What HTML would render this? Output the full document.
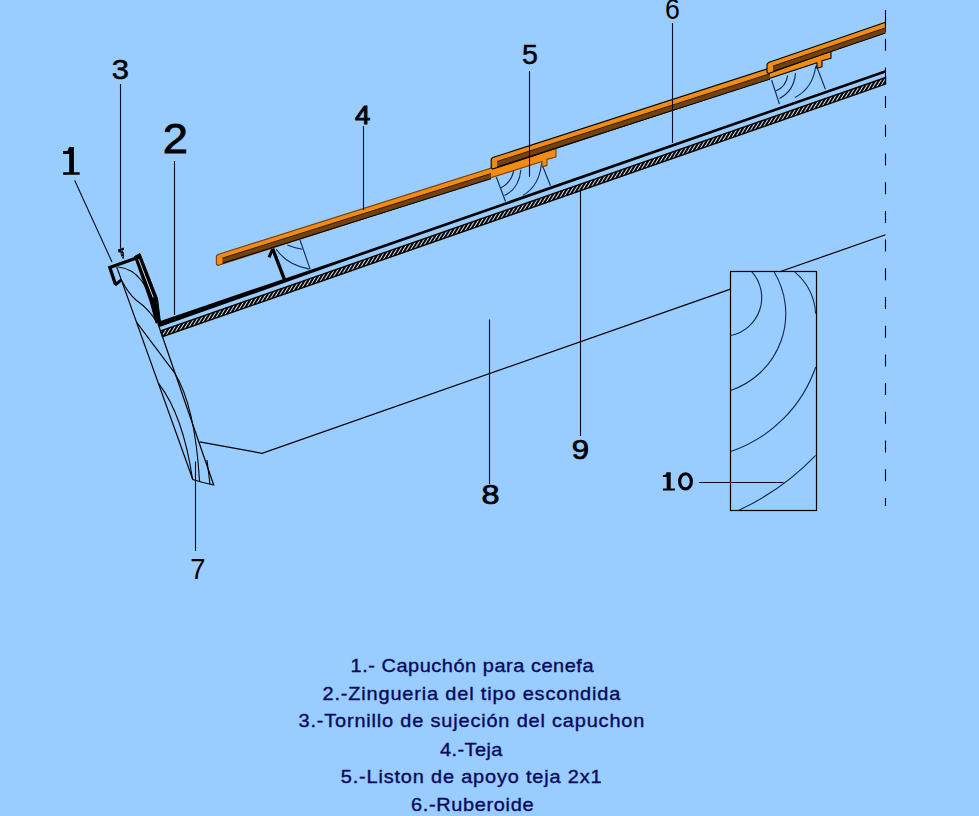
<!DOCTYPE html>
<html><head><meta charset="utf-8"><style>
html,body{margin:0;padding:0;background:#99ccff;}
body{width:979px;height:816px;overflow:hidden;position:relative;}
svg{position:absolute;left:0;top:0;font-family:"Liberation Sans",sans-serif;}
</style></head><body>
<svg width="979" height="816" viewBox="0 0 979 816">
<defs>
<pattern id="hatch" patternUnits="userSpaceOnUse" width="3" height="3" patternTransform="rotate(32)">
<rect width="3" height="3" fill="#000"/><rect width="0.95" height="3" fill="#e6eef8"/>
</pattern>
</defs>
<polyline points="199.6,441.9 262,453.3 730.5,289.1" fill="none" stroke="#000000" stroke-width="1.2"/>
<polyline points="779.7,271.8 885.5,234.8" fill="none" stroke="#000000" stroke-width="1.2"/>
<rect x="730.5" y="271.5" width="86" height="239" fill="none" stroke="#000000" stroke-width="1.2"/>
<path d="M751.7,271.7 A38.6,38.6 0 0 1 730.6,335.5" fill="none" stroke="#10284a" stroke-width="1.1"/>
<path d="M774,271.7 A80.9,80.9 0 0 1 730.6,390.4" fill="none" stroke="#10284a" stroke-width="1.1"/>
<path d="M794.4,271.7 A59.8,59.8 0 0 1 815.7,313.8" fill="none" stroke="#10284a" stroke-width="1.1"/>
<path d="M815.7,367 A136.2,136.2 0 0 1 730.6,451.6" fill="none" stroke="#10284a" stroke-width="1.1"/>
<path d="M815.7,455.3 A257.3,257.3 0 0 1 738.5,510.4" fill="none" stroke="#10284a" stroke-width="1.1"/>
<line x1="885.5" y1="10" x2="885.5" y2="506" stroke="#000000" stroke-width="1.1" stroke-dasharray="12 16.7"/>
<polyline points="116.7,266.9 192.8,479.5 203,482.5 213.7,485 157.9,323.5" fill="none" stroke="#000000" stroke-width="1.2"/>
<path d="M118.2,267 Q146,270 154.5,314" fill="none" stroke="#000000" stroke-width="1.1"/>
<path d="M121.4,280 Q128,293 136,300 Q150,310 157.3,323" fill="none" stroke="#000000" stroke-width="1.1"/>
<path d="M136.1,321.6 L174.2,372.3 Q195,405 199.5,481" fill="none" stroke="#000000" stroke-width="1.1"/>
<path d="M158.7,383.6 Q183,415 192.5,479" fill="none" stroke="#000000" stroke-width="1.1"/>
<path d="M207,460 L210,484.5" fill="none" stroke="#000000" stroke-width="1.1"/>
<polygon points="160.6,330.8 885.5,77.5 885.5,84.1 162.6,336.7" fill="url(#hatch)" stroke="#000000" stroke-width="1.4"/>
<polygon points="157.5,322.1 250,290.3 350,256.4 885.5,69.9 885.5,72.7 350,259.3 250,295.1 159.5,327" fill="#000000"/>
<polyline points="115.5,284.5 109.8,267.5 138.5,257.2" fill="none" stroke="#000000" stroke-width="3.3" stroke-linejoin="miter"/>
<polygon points="134.5,256.5 140,253.5 157.5,298.5 160.5,322.5 156,323 150,301" fill="#000000" stroke="#000000" stroke-width="1"/>
<line x1="138.6" y1="259" x2="153.2" y2="297.5" stroke="#e6f2ff" stroke-width="0.9"/>
<polyline points="115,285 121.4,279.9" fill="none" stroke="#000000" stroke-width="3"/>
<path d="M118,249.6 L123.8,247.6 L123.9,249.8 L122.3,250.6 L123.9,253 L123.9,258.6 L122.8,258.8 L120.8,255 L120.6,252.4 L118.4,252.2 Z" fill="#000000"/>
<path d="M121.4,250.3 L121.6,251.4 M121.9,253 L122.1,254.4 M122.6,255.8 L122.8,257" stroke="#dde8f5" stroke-width="0.7"/>
<line x1="272.6" y1="248.5" x2="284.4" y2="279.4" stroke="#000000" stroke-width="3.4"/><line x1="299.9" y1="239.7" x2="310.1" y2="269.1" stroke="#10284a" stroke-width="1.1"/><path d="M276.3,249.3 Q287,265 309.4,269.1" fill="none" stroke="#10284a" stroke-width="1.1"/><path d="M287.4,244.9 Q295,248 302,249.3" fill="none" stroke="#10284a" stroke-width="1.1"/>
<path d="M272.6,249 L269,257.4" stroke="#000000" stroke-width="3"/>
<line x1="496.3" y1="177" x2="505.5" y2="201.5" stroke="#10284a" stroke-width="1.1"/><line x1="541.3" y1="162.7" x2="550.5" y2="185.7" stroke="#10284a" stroke-width="1.1"/><path d="M513.7,170.9 Q511,183 500.4,188.2" fill="none" stroke="#10284a" stroke-width="1.1"/><path d="M520.9,169.8 Q519,189 504.5,195.4" fill="none" stroke="#10284a" stroke-width="1.1"/><path d="M541.3,164.7 Q539,186 522.9,195.4" fill="none" stroke="#10284a" stroke-width="1.1"/>
<line x1="771.6" y1="80" x2="779.4" y2="104" stroke="#10284a" stroke-width="1.1"/><line x1="816.2" y1="65.3" x2="825.4" y2="89.2" stroke="#10284a" stroke-width="1.1"/><path d="M787.7,75.4 Q786,87 775.7,91" fill="none" stroke="#10284a" stroke-width="1.1"/><path d="M795.5,73.1 Q794,91 779.4,98.4" fill="none" stroke="#10284a" stroke-width="1.1"/><path d="M815.7,66.3 Q813,88 795,97.5" fill="none" stroke="#10284a" stroke-width="1.1"/>
<polygon points="217.9,254.5 556,147.5 556,157 547,159.4 547,165.4 542,166.9 542,161.4 217.9,265.5 216.4,264 216.4,256" fill="#f08c14" stroke="#7a4008" stroke-width="1.1" stroke-linejoin="round"/><polygon points="222.4,258.1 491,173.5 491,179 222.4,263.6" fill="#74420e"/><line x1="222.4" y1="258.1" x2="491" y2="173.5" stroke="#2a1400" stroke-width="0.9"/><line x1="222.4" y1="263.3" x2="491" y2="178.7" stroke="#000" stroke-width="1"/>
<polygon points="492.7,157.6 831,48.3 831,58.3 822,60.7 822,66.7 817,68.3 817,62.8 492.7,169.1 491.2,167.6 491.2,159.1" fill="#f08c14" stroke="#000000" stroke-width="1.1" stroke-linejoin="round"/><polygon points="497.2,161.4 770,73.7 770,79.4 497.2,167.2" fill="#74420e"/><line x1="497.2" y1="161.4" x2="770" y2="73.7" stroke="#2a1400" stroke-width="0.9"/><line x1="497.2" y1="166.9" x2="770" y2="79.1" stroke="#000" stroke-width="1"/>
<polygon points="768.5,62.6 885.5,22.3 885.5,31.8 768.5,73.6 767,72.1 767,64.1" fill="#f08c14" stroke="#000000" stroke-width="1.1" stroke-linejoin="round"/><polygon points="773,66.1 885.5,27.8 885.5,33.3 773,71.6" fill="#74420e"/><line x1="773" y1="66.1" x2="885.5" y2="27.8" stroke="#2a1400" stroke-width="0.9"/><line x1="773" y1="71.3" x2="885.5" y2="33" stroke="#000" stroke-width="1"/>
<line x1="74.6" y1="180.3" x2="112" y2="262" stroke="#080c22" stroke-width="1.1"/>
<line x1="120.5" y1="84" x2="120.5" y2="248.5" stroke="#080c22" stroke-width="1.1"/>
<line x1="174.5" y1="161" x2="174.5" y2="315" stroke="#080c22" stroke-width="1.1"/>
<line x1="363.5" y1="126" x2="363.5" y2="210" stroke="#080c22" stroke-width="1.1"/>
<line x1="529.5" y1="71" x2="529.5" y2="177" stroke="#080c22" stroke-width="1.1"/>
<line x1="672.5" y1="23" x2="672.5" y2="143" stroke="#080c22" stroke-width="1.1"/>
<line x1="195.5" y1="461.5" x2="195.5" y2="551" stroke="#080c22" stroke-width="1.1"/>
<line x1="489.5" y1="319.5" x2="489.5" y2="484" stroke="#080c22" stroke-width="1.1"/>
<line x1="580.5" y1="188" x2="580.5" y2="436" stroke="#080c22" stroke-width="1.1"/>
<line x1="699" y1="482.5" x2="783.5" y2="482.5" stroke="#080c22" stroke-width="1.1"/>
<text transform="translate(162.69,153.1) scale(1.1053,1.0357)" x="0" y="0" font-size="41" font-weight="400" fill="#000000" stroke="#000000" stroke-width="0.8">2</text>
<text transform="translate(111.83,78.7) scale(1.1692,1.05)" x="0" y="0" font-size="26.5" font-weight="400" fill="#000000" stroke="#000000" stroke-width="0.5">3</text>
<text transform="translate(355.0,124.05) scale(1.04,0.95)" x="0" y="0" font-size="26.5" font-weight="400" fill="#000000" stroke="#000000" stroke-width="1.0">4</text>
<text transform="translate(521.92,63.7) scale(1.0769,1.0389)" x="0" y="0" font-size="26.5" font-weight="400" fill="#000000" stroke="#000000" stroke-width="0.5">5</text>
<text transform="translate(664.99,18.8) scale(1.0077,1.0833)" x="0" y="0" font-size="26.5" font-weight="400" fill="#000000">6</text>
<text transform="translate(190.25,578.75) scale(0.9962,1.0658)" x="0" y="0" font-size="27.5" font-weight="400" fill="#000000">7</text>
<text transform="translate(481.38,504.4) scale(1.2231,1.0333)" x="0" y="0" font-size="26.5" font-weight="400" fill="#000000" stroke="#000000" stroke-width="0.7">8</text>
<text transform="translate(571.72,459.2) scale(1.1769,1.0667)" x="0" y="0" font-size="26.5" font-weight="400" fill="#000000" stroke="#000000" stroke-width="0.7">9</text>
<path d="M63.1,151.1 L67.3,151.1 L69.2,146.9 L73.9,146.9 L73.9,172.2 L79.7,172.2 L79.7,174.8 L63.1,174.8 L63.1,172.2 L69.2,172.2 L69.2,153.9 L63.1,153.9 Z" fill="#000000"/>
<path d="M662.9,474.9 L665.3,474.9 L666.7,472.2 L670.7,472.2 L670.7,488.6 L674.9,488.6 L674.9,490.5 L662.9,490.5 L662.9,488.6 L666.7,488.6 L666.7,477.1 L662.9,477.1 Z" fill="#000000"/>
<ellipse cx="685.5" cy="481.35" rx="5.9" ry="7.6" fill="none" stroke="#000000" stroke-width="3.2"/>

<text transform="translate(350.6,671.8) scale(1.06,1)" x="0" y="0" font-size="18.8" fill="#0a0a5c" stroke="#0a0a5c" stroke-width="0.38" textLength="229.15" lengthAdjust="spacing">1.- Capuchón para cenefa</text>
<text transform="translate(322.5,699.8) scale(1.06,1)" x="0" y="0" font-size="18.8" fill="#0a0a5c" stroke="#0a0a5c" stroke-width="0.38" textLength="280.94" lengthAdjust="spacing">2.-Zingueria del tipo escondida</text>
<text transform="translate(298.5,727.3) scale(1.06,1)" x="0" y="0" font-size="18.8" fill="#0a0a5c" stroke="#0a0a5c" stroke-width="0.38" textLength="326.23" lengthAdjust="spacing">3.-Tornillo de sujeción del capuchon</text>
<text transform="translate(440,755.7) scale(1.06,1)" x="0" y="0" font-size="18.8" fill="#0a0a5c" stroke="#0a0a5c" stroke-width="0.38" textLength="58.87" lengthAdjust="spacing">4.-Teja</text>
<text transform="translate(340.8,783.2) scale(1.06,1)" x="0" y="0" font-size="18.8" fill="#0a0a5c" stroke="#0a0a5c" stroke-width="0.38" textLength="246.04" lengthAdjust="spacing">5.-Liston de apoyo teja 2x1</text>
<text transform="translate(411,810.6) scale(1.06,1)" x="0" y="0" font-size="18.8" fill="#0a0a5c" stroke="#0a0a5c" stroke-width="0.38" textLength="115.57" lengthAdjust="spacing">6.-Ruberoide</text>

</svg>
</body></html>
